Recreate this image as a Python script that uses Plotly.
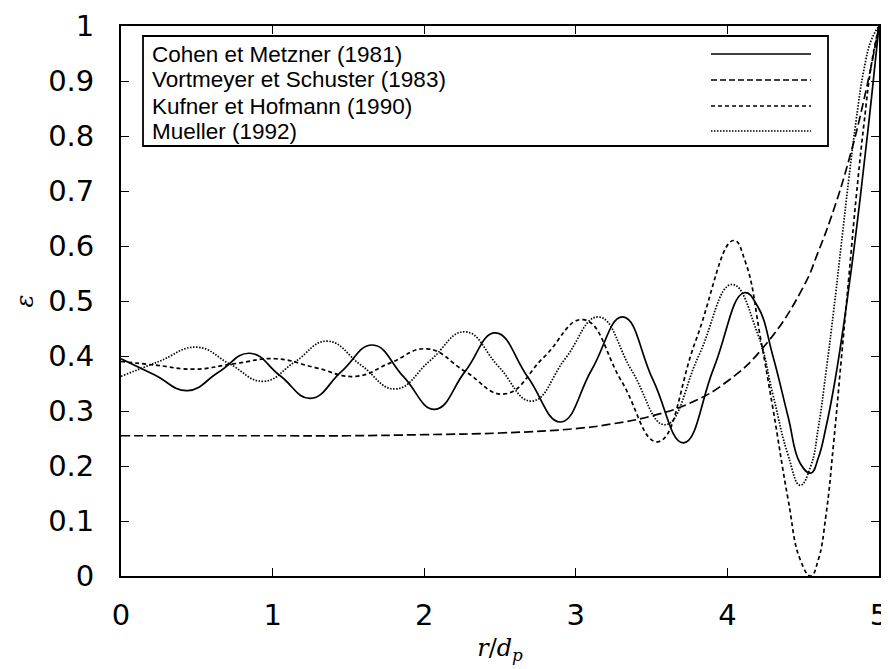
import plotly.graph_objects as go

# ---- data ----
labels = ["Cohen et Metzner (1981)", "Vortmeyer et Schuster (1983)",
          "Kufner et Hofmann (1990)", "Mueller (1992)"]

x_cm = [0, 0.22, 0.44, 0.645, 0.85, 1.05, 1.25, 1.455, 1.66, 1.865, 2.07, 2.27, 2.47,
        2.685, 2.90, 3.105, 3.31, 3.51, 3.71, 3.91, 4.11, 4.2, 4.3, 4.4, 4.48, 4.55,
        4.6, 4.65, 4.7, 4.75, 4.8, 4.85, 4.9, 4.95, 5.0]
y_cm = [0.395, 0.366, 0.337, 0.371, 0.405, 0.364, 0.323, 0.372, 0.420, 0.362, 0.303,
        0.372, 0.442, 0.361, 0.280, 0.375, 0.471, 0.356, 0.242, 0.378, 0.515, 0.49,
        0.40, 0.29, 0.205, 0.187, 0.215, 0.27, 0.34, 0.425, 0.522, 0.628, 0.745, 0.868,
        1.0]

x_vs = [0, 0.5, 1, 1.5, 2, 2.5, 3, 3.25, 3.5, 3.75, 4, 4.25, 4.5, 4.6, 4.7, 4.8, 4.9, 5.0]
y_vs = [0.255, 0.255, 0.255, 0.255, 0.257, 0.260, 0.268, 0.277, 0.291, 0.314, 0.354,
        0.42, 0.525, 0.59, 0.665, 0.755, 0.865, 1.0]

x_kh = [0, 0.24, 0.48, 0.75, 1.02, 1.28, 1.55, 1.78, 2.02, 2.27, 2.53, 2.79, 3.05, 3.3,
        3.54, 3.79, 4.04, 4.12, 4.22, 4.30, 4.40, 4.48, 4.55, 4.6, 4.65, 4.7, 4.75, 4.8,
        4.85, 4.9, 4.95, 5.0]
y_kh = [0.390, 0.383, 0.376, 0.386, 0.395, 0.379, 0.363, 0.388, 0.413, 0.372, 0.331,
        0.398, 0.466, 0.355, 0.244, 0.427, 0.610, 0.57, 0.43, 0.305, 0.14, 0.03, 0.0,
        0.03, 0.11, 0.24, 0.39, 0.54, 0.69, 0.82, 0.93, 1.0]

x_mu = [0, 0.25, 0.50, 0.72, 0.94, 1.15, 1.36, 1.585, 1.81, 2.04, 2.27, 2.49, 2.71,
        2.93, 3.15, 3.37, 3.59, 3.81, 4.03, 4.2, 4.3, 4.4, 4.48, 4.55, 4.6, 4.65, 4.7,
        4.75, 4.8, 4.85, 4.9, 4.95, 5.0]
y_mu = [0.363, 0.39, 0.416, 0.385, 0.354, 0.39, 0.427, 0.383, 0.340, 0.392, 0.444,
        0.381, 0.318, 0.395, 0.471, 0.373, 0.275, 0.40, 0.53, 0.44, 0.33, 0.22, 0.165,
        0.20, 0.27, 0.37, 0.48, 0.60, 0.72, 0.83, 0.92, 0.975, 1.0]

x_ticks = [0, 1, 2, 3, 4, 5]
y_ticks = [0, 0.1, 0.2, 0.3, 0.4, 0.5, 0.6, 0.7, 0.8, 0.9, 1]
y_ticktext = ["0", "0.1", "0.2", "0.3", "0.4", "0.5", "0.6", "0.7", "0.8", "0.9", "1"]

dashes = ["solid", "9px,4px", "4px,3px", "1.5px,1.5px"]
series = [(x_cm, y_cm), (x_vs, y_vs), (x_kh, y_kh), (x_mu, y_mu)]

fig = go.Figure()
for (xs, ys), name, d in zip(series, labels, dashes):
    fig.add_trace(go.Scatter(x=xs, y=ys, mode="lines", name=name, showlegend=False,
                             line=dict(color="black", width=1.7, dash=d,
                                       shape="spline", smoothing=1.3)))

# manual legend (text left, sample right), in paper coordinates
L, T, W, H = 113, 18, 758, 550
def px2x(p): return (p - L) / W
def py2y(p): return (T + H - p) / H

shapes = [dict(type="rect", xref="paper", yref="paper",
               x0=px2x(135), x1=px2x(820), y0=py2y(138), y1=py2y(28),
               line=dict(color="black", width=1.8), fillcolor="white", layer="above")]
annotations = []
rows = [46, 72, 98, 123]
for name, d, r in zip(labels, dashes, rows):
    annotations.append(dict(text=name, xref="paper", yref="paper", x=px2x(142),
                            y=py2y(r), xanchor="left", yanchor="middle", showarrow=False,
                            font=dict(family="Liberation Sans, Arial", size=22.5,
                                      color="black")))
    shapes.append(dict(type="line", xref="paper", yref="paper", x0=px2x(703),
                       x1=px2x(803), y0=py2y(r), y1=py2y(r), layer="above",
                       line=dict(color="black", width=1.4,
                                 dash=("6px,3px" if d == "9px,4px" else d))))

fig.update_layout(
    width=889, height=669,
    margin=dict(l=L, r=889 - L - W, t=T, b=669 - T - H),
    paper_bgcolor="white", plot_bgcolor="white",
    shapes=shapes, annotations=annotations,
    font=dict(family="DejaVu Sans, Arial", size=29, color="black"),
    xaxis=dict(range=[0, 5], tickvals=x_ticks, ticktext=[str(v) for v in x_ticks],
               showgrid=False, zeroline=False, showline=True, linecolor="black",
               linewidth=1.8, mirror="ticks", ticks="inside", ticklen=8,
               tickcolor="black", tickwidth=1.4, ticklabelstandoff=12,
               automargin=False,
               title=dict(text="<i>r</i>/<i>d</i><sub><i>p</i></sub>",
                          font=dict(family="DejaVu Serif", size=24), standoff=8)),
    yaxis=dict(range=[0, 1], tickvals=y_ticks, ticktext=y_ticktext,
               showgrid=False, zeroline=False, showline=True, linecolor="black",
               linewidth=1.8, mirror="ticks", ticks="inside", ticklen=8,
               tickcolor="black", tickwidth=1.4, ticklabelstandoff=19,
               automargin=False,
               title=dict(text="<i>ε</i>", font=dict(family="DejaVu Serif", size=24),
                          standoff=8)),
)

fig.write_html("out.html")
